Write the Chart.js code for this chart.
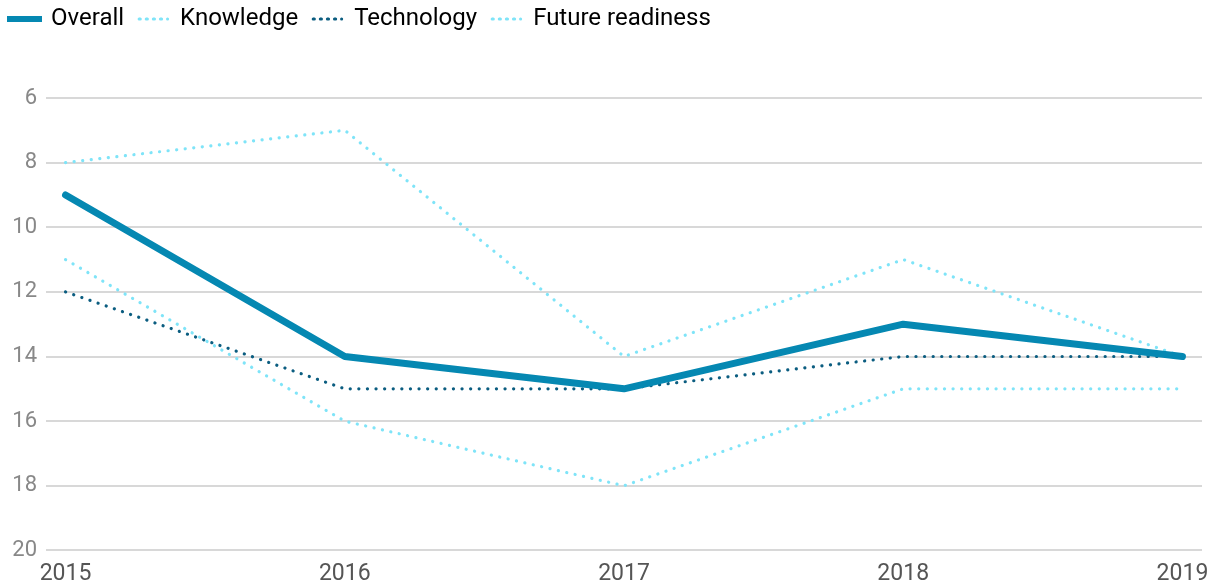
<!DOCTYPE html>
<html><head><meta charset="utf-8">
<script src="https://cdn.jsdelivr.net/npm/chart.js@4"></script>
<style>html,body{margin:0;padding:0;background:#fff}#w{width:1214px;height:585px}</style>
</head><body><div id="w"><canvas id="c"></canvas></div>
<script>
const years = [2015, 2016, 2017, 2018, 2019];
const overall = [9, 14, 15, 13, 14];
const knowledge = [11, 16, 18, 15, 15];
const technology = [12, 15, 15, 14, 14];
const futureReadiness = [8, 7, 14, 11, 14];
const yTicks = [6, 8, 10, 12, 14, 16, 18, 20];

const pts = arr => arr.map((v, i) => ({x: years[i], y: v}));
const dot = {borderDash: [0.1, 8.5], borderCapStyle: 'round', borderWidth: 3.2};
Chart.defaults.font.family = 'Roboto';

const legendGap = {
  id: 'legendGap',
  beforeInit(chart) {
    const fit = chart.legend.fit;
    chart.legend.fit = function () { fit.call(this); this.height += 57; };
  }
};

new Chart(document.getElementById('c'), {
  type: 'line',
  plugins: [legendGap],
  data: {
    datasets: [
      {label: 'Overall', data: pts(overall), borderColor: '#0588b2', borderWidth: 7, borderCapStyle: 'round', borderJoinStyle: 'round', order: 0},
      Object.assign({label: 'Knowledge', data: pts(knowledge), borderColor: '#7fe4f8', order: 1}, dot),
      Object.assign({label: 'Technology', data: pts(technology), borderColor: '#0b5d80', order: 2}, dot),
      Object.assign({label: 'Future readiness', data: pts(futureReadiness), borderColor: '#7fe4f8', order: 3}, dot)
    ]
  },
  options: {
    responsive: true, maintainAspectRatio: false, animation: false,
    elements: {point: {radius: 0, hoverRadius: 0}, line: {tension: 0, fill: false}},
    layout: {padding: {left: -5, right: 12, top: -8, bottom: -5}},
    plugins: {
      tooltip: {enabled: false},
      legend: {
        position: 'top', align: 'start',
        labels: {
          font: {size: 24}, color: '#333', boxWidth: 29, boxHeight: 0.01, padding: 15,
          generateLabels: chart => chart.data.datasets.map((d, i) => ({
            text: d.label, fillStyle: 'rgba(0,0,0,0)', strokeStyle: d.borderColor,
            lineWidth: i === 0 ? 6 : 3, lineDash: i === 0 ? [] : [0.1, 7], lineCap: i === 0 ? 'butt' : 'round',
            datasetIndex: i, hidden: false
          }))
        }
      }
    },
    scales: {
      x: {
        type: 'linear', min: 2014.93, max: 2019.07,
        afterBuildTicks: s => { s.ticks = years.map(v => ({value: v})); },
        grid: {display: false}, border: {display: false},
        ticks: {color: '#555', font: {size: 23}, padding: 2, maxRotation: 0, callback: v => String(v)}
      },
      y: {
        reverse: true, min: 6, max: 20,
        afterBuildTicks: s => { s.ticks = yTicks.map(v => ({value: v})); },
        afterFit: s => { s.width = 51; },
        grid: {color: '#d8d8d8', lineWidth: 2, drawTicks: false}, border: {display: false},
        ticks: {color: '#888', font: {size: 22}, padding: 9}
      }
    }
  }
});
</script></body></html>
